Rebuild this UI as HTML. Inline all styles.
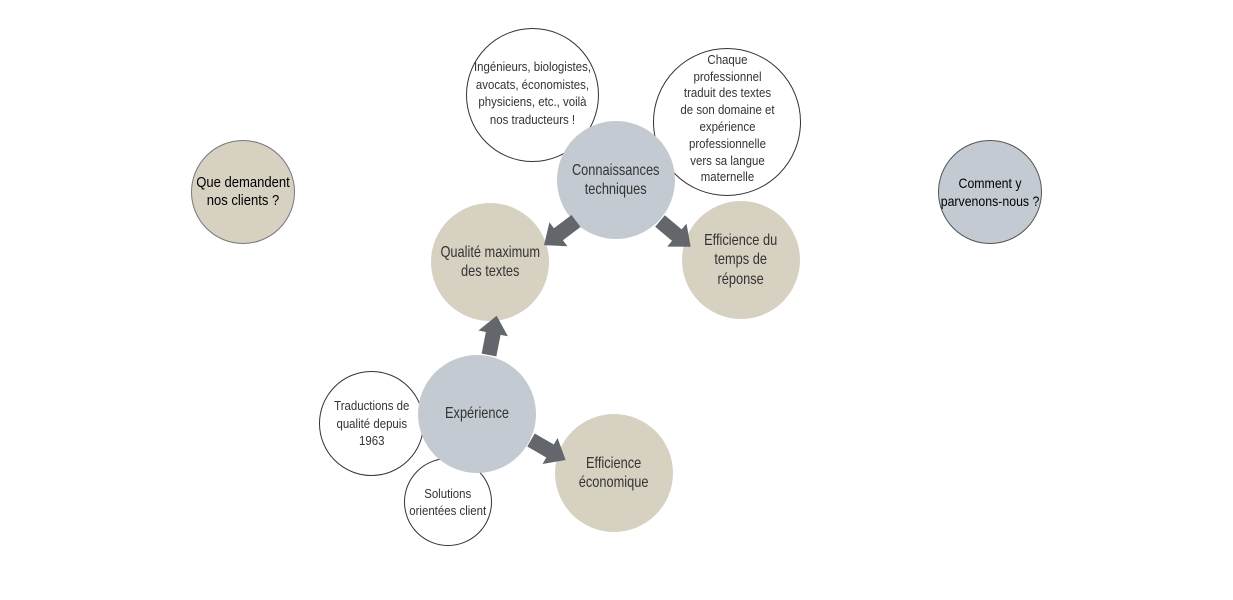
<!DOCTYPE html>
<html><head><meta charset="utf-8"><style>
body{margin:0;width:1233px;height:600px;background:#fff;position:relative;overflow:hidden;font-family:"Liberation Sans",sans-serif;}
.c{position:absolute;border-radius:50%;display:flex;align-items:center;justify-content:center;text-align:center;box-sizing:border-box;}
.c span{display:block;white-space:nowrap;color:#333;}
.w{background:#fff;border:1.3px solid #333;font-size:13px;line-height:17.5px;}
.w span{transform:scaleX(.88);}
.b{background:#c3cad1;font-size:16px;line-height:19.5px;}
.g{background:#d7d1c1;font-size:16px;line-height:19.5px;}
.b span,.g span{transform:scaleX(.8);}
svg{position:absolute;left:0;top:0;}
</style></head><body>
<div class="c g" style="left:191px;top:140px;width:104px;height:104px;border:1.3px solid #777;"><span style="color:#000;font-size:14.5px;line-height:18px;transform:scaleX(.9)">Que demandent<br>nos clients ?</span></div>
<div class="c b" style="left:938px;top:140px;width:104px;height:104px;border:1.3px solid #555;"><span style="color:#000;font-size:14px;line-height:18px;transform:scaleX(.88)">Comment y<br>parvenons-nous ?</span></div>

<div class="c w" style="left:466px;top:28px;width:133px;height:134px;"><span style="margin-top:-4px">Ingénieurs, biologistes,<br>avocats, économistes,<br>physiciens, etc., voilà<br>nos traducteurs !</span></div>
<div class="c w" style="left:653px;top:48px;width:148px;height:148px;"><span style="line-height:16.8px;margin-top:-6px">Chaque<br>professionnel<br>traduit des textes<br>de son domaine et<br>expérience<br>professionnelle<br>vers sa langue<br>maternelle</span></div>
<div class="c w" style="left:319px;top:371px;width:105px;height:105px;"><span>Traductions de<br>qualité depuis<br>1963</span></div>
<div class="c w" style="left:404px;top:458px;width:88px;height:88px;"><span>Solutions<br>orientées client</span></div>

<div class="c b" style="left:557px;top:121px;width:118px;height:118px;"><span>Connaissances<br>techniques</span></div>
<div class="c g" style="left:431px;top:203px;width:118px;height:118px;"><span>Qualité maximum<br>des textes</span></div>
<div class="c g" style="left:682px;top:201px;width:118px;height:118px;"><span>Efficience du<br>temps de<br>réponse</span></div>
<div class="c b" style="left:418px;top:355px;width:118px;height:118px;"><span>Expérience</span></div>
<div class="c g" style="left:555px;top:414px;width:118px;height:118px;"><span>Efficience<br>économique</span></div>

<svg width="1233" height="600">
<defs><polygon id="ar" points="0,-7.5 22,-7.5 22,-15 40,0 22,15 22,7.5 0,7.5" fill="#63676b"/></defs>
<use href="#ar" transform="translate(576,221) rotate(143)"/>
<use href="#ar" transform="translate(660,221) rotate(40)"/>
<use href="#ar" transform="translate(489,355) rotate(-79)"/>
<use href="#ar" transform="translate(531,440) rotate(30)"/>
</svg>
</body></html>
